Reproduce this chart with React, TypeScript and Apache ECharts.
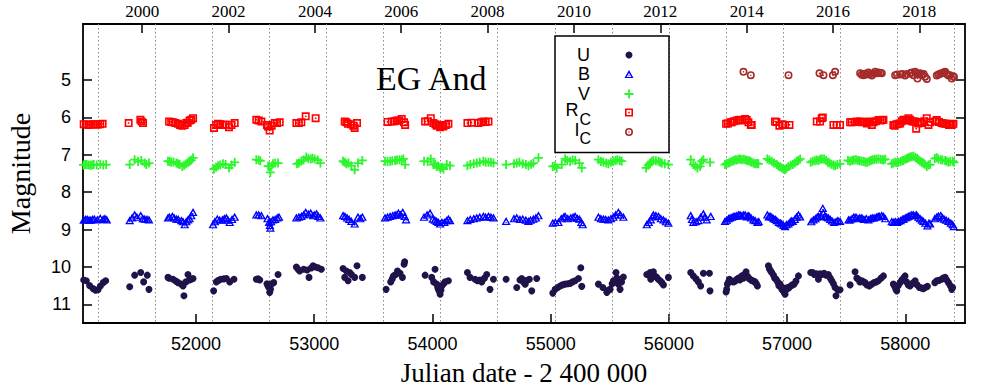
import React, { useEffect, useRef } from "react";
import * as echarts from "echarts";

// ---- axis ranges & ticks ----
const JD_MIN = 51044;
const JD_MAX = 58505;
const MAG_MIN = 3.5;
const MAG_MAX = 11.5;
const jdTicks = [52000, 53000, 54000, 55000, 56000, 57000, 58000];
const magTicks = [5, 6, 7, 8, 9, 10, 11];
const yearTicks = [2000, 2002, 2004, 2006, 2008, 2010, 2012, 2014, 2016, 2018];

// vertical dotted lines
const eclipseJD = [51173, 51656, 52139, 52621, 53104, 53587, 54069, 54552, 55035, 55517, 56000, 56483, 56966, 57448, 57931, 58414];

// ---- photometry [JD-2400000, magnitude] ----
const uData = [
  [51050,10.35],[51072,10.37],[51100,10.5],[51129,10.58],[51150,10.62],[51171,10.61],[51191,10.51],[51215,10.42],[51236,10.37],
  [51439,10.53],[51481,10.22],[51532,10.15],[51557,10.4],[51588,10.22],[51602,10.6],
  [51763,10.28],[51772,10.3],[51805,10.33],[51830,10.38],[51848,10.42],[51876,10.46],[51890,10.51],[51898,10.77],[51915,10.4],[51932,10.2],[51945,10.35],[51960,10.33],[51975,10.31],
  [52149,10.64],[52172,10.4],[52190,10.36],[52209,10.33],[52235,10.32],[52257,10.31],[52285,10.4],[52321,10.33],
  [52510,10.33],[52525,10.32],[52539,10.35],[52600,10.45],[52610,10.52],[52618,10.55],[52623,10.68],[52630,10.6],[52637,10.46],[52657,10.42],[52694,10.2],
  [52849,10.0],[52863,10.06],[52877,10.11],[52911,10.06],[52940,10.08],[52956,10.28],[52975,10.03],[52990,9.97],[53010,10.0],[53032,10.02],[53060,10.06],
  [53244,10.04],[53258,10.28],[53272,10.11],[53286,10.37],[53300,10.15],[53315,10.2],[53342,10.28],[53362,9.97],[53407,10.28],
  [53608,10.6],[53647,10.4],[53660,10.32],[53670,10.24],[53690,10.2],[53704,10.11],[53726,10.17],[53746,10.28],[53760,9.93],[53765,9.86],
  [53938,10.22],[53994,10.28],[54010,10.4],[54022,10.06],[54036,10.46],[54045,10.55],[54050,10.6],[54058,10.65],[54065,10.73],[54072,10.62],[54079,10.51],[54095,10.45],[54107,10.4],[54135,10.37],
  [54296,10.15],[54318,10.28],[54360,10.33],[54380,10.37],[54400,10.35],[54417,10.4],[54440,10.3],[54459,10.2],[54487,10.6],[54516,10.33],
  [54623,10.33],[54713,10.55],[54740,10.35],[54755,10.31],[54770,10.4],[54784,10.46],[54800,10.36],[54820,10.33],[54840,10.64],[54882,10.31],
  [55018,10.7],[55038,10.6],[55060,10.55],[55080,10.51],[55100,10.48],[55122,10.46],[55145,10.45],[55164,10.44],[55185,10.4],[55207,10.37],[55235,10.31],[55255,10.02],[55263,10.52],
  [55404,10.46],[55441,10.55],[55475,10.68],[55490,10.62],[55503,10.6],[55520,10.45],[55531,10.37],[55553,10.15],[55560,10.3],[55573,10.46],[55587,10.6],[55600,10.4],[55615,10.27],
  [55813,10.2],[55830,10.22],[55841,10.15],[55847,10.33],[55869,10.13],[55885,10.25],[55897,10.28],[55910,10.33],[55926,10.37],[55940,10.42],[55954,10.48],[55996,10.28],
  [56185,10.15],[56207,10.24],[56230,10.32],[56250,10.4],[56269,10.51],[56292,10.17],[56343,10.17],[56348,10.64],
  [56484,10.67],[56489,10.6],[56495,10.46],[56505,10.4],[56512,10.33],[56530,10.38],[56546,10.4],[56560,10.38],[56574,10.33],[56590,10.3],[56600,10.35],[56616,10.24],[56630,10.3],[56640,10.2],[56653,10.13],[56665,10.25],[56675,10.3],[56687,10.33],[56700,10.36],[56715,10.38],[56729,10.4],[56740,10.45],[56749,10.51],
  [56842,9.97],[56850,10.05],[56860,10.1],[56870,10.15],[56885,10.22],[56895,10.3],[56907,10.33],[56920,10.4],[56930,10.5],[56941,10.46],[56955,10.6],[56962,10.55],[56969,10.64],[56975,10.68],[56983,10.73],[56995,10.6],[57003,10.55],[57015,10.56],[57031,10.51],[57045,10.48],[57059,10.46],[57075,10.38],[57096,10.24],
  [57200,10.15],[57217,10.15],[57230,10.2],[57250,10.18],[57265,10.33],[57280,10.18],[57295,10.2],[57313,10.17],[57330,10.22],[57349,10.2],[57365,10.3],[57378,10.37],[57392,10.45],[57406,10.55],[57414,10.77],[57430,10.62],[57448,10.61],
  [57533,10.48],[57575,10.13],[57590,10.3],[57603,10.33],[57615,10.4],[57632,10.37],[57645,10.4],[57660,10.42],[57675,10.48],[57696,10.51],[57715,10.46],[57736,10.42],[57755,10.4],[57772,10.37],[57795,10.3],[57815,10.24],
  [57899,10.46],[57910,10.52],[57920,10.6],[57928,10.64],[57940,10.5],[57956,10.42],[57970,10.35],[57985,10.3],[57998,10.24],[58010,10.4],[58025,10.48],[58040,10.51],[58055,10.45],[58070,10.42],[58083,10.37],[58100,10.48],[58119,10.55],[58135,10.56],[58153,10.58],[58170,10.55],[58187,10.52],
  [58250,10.42],[58266,10.37],[58285,10.36],[58308,10.33],[58320,10.3],[58337,10.28],[58350,10.35],[58365,10.42],[58380,10.5],[58393,10.6],[58400,10.55]
];

const bData = [
  [51050,8.74],[51065,8.72],[51080,8.72],[51095,8.74],[51110,8.74],[51125,8.72],[51140,8.71],[51165,8.73],[51190,8.69],[51215,8.72],[51230,8.7],[51245,8.73],
  [51439,8.75],[51460,8.68],[51481,8.6],[51500,8.66],[51532,8.62],[51550,8.7],[51566,8.71],[51585,8.72],[51602,8.73],
  [51763,8.68],[51775,8.66],[51800,8.64],[51815,8.68],[51834,8.71],[51850,8.72],[51876,8.75],[51890,8.78],[51904,8.86],[51918,8.78],[51932,8.73],[51945,8.7],[51960,8.62],[51975,8.53],
  [52144,8.86],[52160,8.78],[52180,8.71],[52200,8.74],[52223,8.73],[52240,8.7],[52257,8.68],[52270,8.74],[52285,8.8],[52305,8.72],[52327,8.66],
  [52510,8.6],[52530,8.6],[52553,8.62],[52605,8.7],[52618,8.8],[52625,8.88],[52629,8.95],[52635,8.78],[52651,8.73],[52670,8.72],[52688,8.68],[52702,8.66],
  [52849,8.68],[52870,8.66],[52891,8.64],[52910,8.6],[52928,8.53],[52950,8.58],[52970,8.55],[52990,8.62],[53004,8.6],[53020,8.57],[53035,8.64],[53052,8.68],
  [53244,8.62],[53260,8.64],[53278,8.68],[53295,8.72],[53314,8.77],[53342,8.84],[53370,8.66],[53390,8.7],[53407,8.66],
  [53599,8.68],[53620,8.66],[53642,8.64],[53665,8.62],[53684,8.6],[53700,8.6],[53712,8.55],[53730,8.6],[53749,8.53],[53765,8.64],[53777,8.73],
  [53929,8.66],[53955,8.6],[53980,8.55],[54003,8.71],[54020,8.74],[54036,8.77],[54050,8.8],[54065,8.84],[54080,8.8],[54101,8.8],[54120,8.75],[54135,8.71],[54149,8.75],
  [54296,8.75],[54320,8.72],[54350,8.7],[54375,8.68],[54400,8.66],[54431,8.64],[54450,8.66],[54474,8.64],[54495,8.66],[54516,8.68],
  [54623,8.77],[54690,8.7],[54713,8.68],[54740,8.72],[54764,8.71],[54790,8.74],[54812,8.77],[54830,8.74],[54854,8.71],[54875,8.68],[54897,8.62],
  [55018,8.82],[55040,8.8],[55066,8.8],[55090,8.7],[55110,8.66],[55122,8.64],[55145,8.7],[55170,8.68],[55190,8.66],[55207,8.64],[55225,8.69],[55243,8.71],[55260,8.8],[55271,8.86],
  [55404,8.66],[55425,8.7],[55446,8.71],[55465,8.72],[55488,8.73],[55510,8.7],[55531,8.66],[55550,8.6],[55573,8.53],[55590,8.6],[55615,8.66],
  [55813,8.86],[55830,8.8],[55847,8.73],[55860,8.65],[55869,8.6],[55890,8.62],[55912,8.64],[55932,8.7],[55954,8.73],[55975,8.78],[55996,8.82],
  [56185,8.62],[56195,8.72],[56207,8.8],[56230,8.78],[56250,8.75],[56270,8.66],[56292,8.57],[56305,8.66],[56320,8.73],[56354,8.64],
  [56475,8.77],[56490,8.74],[56505,8.7],[56518,8.68],[56535,8.66],[56550,8.64],[56560,8.64],[56575,8.62],[56590,8.6],[56602,8.6],[56615,8.63],[56630,8.6],[56645,8.6],[56660,8.65],[56670,8.62],[56681,8.64],[56695,8.68],[56715,8.73],[56730,8.75],[56749,8.8],[56760,8.78],
  [56833,8.6],[56845,8.65],[56855,8.63],[56870,8.66],[56885,8.7],[56900,8.72],[56912,8.75],[56930,8.8],[56945,8.82],[56955,8.84],[56970,8.88],[56983,8.91],[56995,8.86],[57011,8.84],[57025,8.8],[57035,8.76],[57048,8.77],[57065,8.72],[57080,8.66],[57096,8.6],[57110,8.65],
  [57205,8.78],[57223,8.73],[57240,8.7],[57255,8.66],[57265,8.64],[57285,8.62],[57302,8.42],[57307,8.55],[57320,8.64],[57335,8.66],[57349,8.68],[57365,8.72],[57380,8.76],[57397,8.8],[57415,8.78],[57430,8.75],[57448,8.77],
  [57520,8.73],[57533,8.73],[57550,8.7],[57565,8.66],[57583,8.66],[57600,8.7],[57615,8.68],[57632,8.68],[57650,8.72],[57670,8.7],[57688,8.73],[57705,8.7],[57720,8.68],[57736,8.68],[57755,8.66],[57770,8.64],[57781,8.64],[57800,8.62],[57815,8.64],[57830,8.7],
  [57885,8.78],[57899,8.8],[57915,8.78],[57930,8.8],[57942,8.77],[57960,8.75],[57975,8.72],[57984,8.71],[58000,8.68],[58015,8.66],[58026,8.64],[58040,8.62],[58055,8.6],[58069,8.6],[58085,8.62],[58095,8.6],[58110,8.66],[58125,8.7],[58140,8.74],[58153,8.77],[58170,8.82],[58187,8.89],[58200,8.82],[58210,8.84],
  [58250,8.7],[58266,8.66],[58280,8.63],[58300,8.62],[58315,8.68],[58328,8.71],[58345,8.74],[58365,8.77],[58385,8.82],[58400,8.86],[58410,8.91]
];

const vData = [
  [51048,7.27],[51062,7.26],[51075,7.26],[51090,7.27],[51105,7.28],[51120,7.27],[51135,7.26],[51160,7.27],[51190,7.25],[51215,7.27],[51240,7.26],
  [51439,7.26],[51481,7.13],[51510,7.18],[51537,7.15],[51566,7.22],[51580,7.26],[51602,7.22],
  [51763,7.17],[51778,7.18],[51791,7.2],[51810,7.19],[51834,7.22],[51848,7.24],[51862,7.26],[51884,7.31],[51900,7.28],[51918,7.24],[51935,7.2],[51946,7.17],[51960,7.14],[51975,7.08],
  [52152,7.38],[52170,7.33],[52186,7.29],[52205,7.27],[52228,7.24],[52250,7.26],[52279,7.35],[52300,7.27],[52327,7.2],
  [52510,7.13],[52530,7.14],[52544,7.16],[52610,7.3],[52618,7.31],[52629,7.47],[52640,7.3],[52651,7.24],[52670,7.22],[52694,7.22],
  [52854,7.24],[52870,7.22],[52891,7.17],[52910,7.14],[52933,7.06],[52950,7.1],[52970,7.11],[52985,7.09],[53004,7.11],[53030,7.14],[53052,7.22],
  [53244,7.17],[53258,7.2],[53272,7.24],[53290,7.22],[53314,7.29],[53342,7.4],[53370,7.22],[53407,7.15],
  [53599,7.17],[53620,7.18],[53642,7.17],[53660,7.16],[53684,7.15],[53700,7.14],[53721,7.13],[53740,7.14],[53754,7.11],[53769,7.26],
  [53929,7.17],[53960,7.18],[53986,7.11],[54008,7.26],[54022,7.25],[54036,7.31],[54050,7.3],[54065,7.35],[54080,7.33],[54093,7.38],[54121,7.26],[54149,7.29],
  [54296,7.29],[54320,7.26],[54350,7.24],[54375,7.22],[54400,7.2],[54431,7.17],[54450,7.2],[54474,7.2],[54495,7.2],[54516,7.22],
  [54623,7.26],[54690,7.24],[54713,7.22],[54735,7.2],[54764,7.24],[54790,7.26],[54812,7.29],[54835,7.25],[54854,7.22],[54897,7.08],
  [55018,7.31],[55035,7.3],[55052,7.35],[55094,7.26],[55122,7.11],[55140,7.15],[55164,7.17],[55185,7.14],[55207,7.15],[55243,7.22],[55263,7.35],
  [55404,7.13],[55425,7.18],[55446,7.2],[55470,7.22],[55488,7.24],[55510,7.2],[55531,7.17],[55550,7.15],[55565,7.13],[55585,7.15],[55601,7.17],
  [55807,7.35],[55825,7.28],[55841,7.22],[55855,7.18],[55869,7.15],[55890,7.16],[55912,7.17],[55925,7.2],[55940,7.22],[55965,7.24],[55996,7.26],
  [56185,7.13],[56207,7.26],[56225,7.3],[56241,7.35],[56264,7.31],[56278,7.17],[56292,7.13],[56348,7.2],
  [56475,7.26],[56490,7.23],[56505,7.22],[56518,7.2],[56535,7.17],[56548,7.16],[56560,7.13],[56575,7.14],[56590,7.12],[56602,7.11],[56615,7.13],[56630,7.12],[56645,7.13],[56660,7.15],[56675,7.16],[56687,7.17],[56700,7.2],[56715,7.22],[56729,7.24],[56745,7.23],[56757,7.24],
  [56833,7.11],[56850,7.14],[56870,7.17],[56890,7.22],[56912,7.26],[56925,7.3],[56940,7.32],[56955,7.35],[56970,7.38],[56983,7.4],[56995,7.36],[57011,7.31],[57030,7.28],[57048,7.26],[57065,7.22],[57082,7.17],[57095,7.15],[57110,7.11],
  [57200,7.2],[57217,7.17],[57235,7.16],[57250,7.14],[57265,7.15],[57280,7.12],[57295,7.11],[57313,7.11],[57330,7.15],[57345,7.2],[57358,7.22],[57375,7.25],[57392,7.27],[57406,7.29],[57425,7.26],[57448,7.24],
  [57515,7.15],[57533,7.17],[57550,7.15],[57565,7.14],[57583,7.13],[57600,7.15],[57615,7.16],[57632,7.17],[57650,7.18],[57665,7.2],[57679,7.2],[57695,7.17],[57710,7.15],[57725,7.13],[57740,7.12],[57755,7.12],[57772,7.11],[57790,7.12],[57805,7.13],[57815,7.13],[57830,7.12],
  [57885,7.24],[57899,7.22],[57915,7.2],[57930,7.21],[57942,7.2],[57960,7.18],[57975,7.16],[57984,7.15],[58000,7.12],[58015,7.1],[58026,7.08],[58040,7.06],[58055,7.05],[58069,7.04],[58085,7.07],[58100,7.1],[58110,7.13],[58125,7.17],[58140,7.2],[58153,7.22],[58165,7.25],[58181,7.31],[58195,7.27],[58210,7.26],
  [58250,7.1],[58266,7.08],[58280,7.11],[58300,7.13],[58315,7.14],[58337,7.15],[58350,7.17],[58365,7.2],[58380,7.18],[58401,7.17],[58412,7.2]
];

const rData = [
  [51050,6.18],[51070,6.19],[51090,6.2],[51110,6.19],[51130,6.18],[51150,6.19],[51170,6.19],[51190,6.18],[51210,6.17],
  [51430,6.15],[51529,6.06],[51540,6.11],[51552,6.15],
  [51772,6.11],[51790,6.12],[51805,6.13],[51825,6.15],[51848,6.17],[51865,6.2],[51884,6.22],[51904,6.2],[51918,6.15],[51930,6.14],[51946,6.08],[51960,6.06],[51975,6.02],
  [52152,6.28],[52170,6.2],[52186,6.17],[52205,6.18],[52228,6.2],[52250,6.19],[52279,6.26],[52300,6.2],[52327,6.15],
  [52510,6.06],[52530,6.08],[52553,6.11],[52600,6.2],[52609,6.24],[52623,6.35],[52640,6.22],[52666,6.15],[52685,6.15],[52708,6.13],
  [52849,6.15],[52870,6.15],[52891,6.13],[52928,5.97],[53012,6.02],
  [53258,6.11],[53272,6.13],[53286,6.17],[53310,6.18],[53330,6.22],[53342,6.28],[53362,6.15],
  [53620,6.12],[53656,6.11],[53680,6.1],[53698,6.08],[53720,6.08],[53740,6.04],[53760,6.13],[53769,6.2],
  [53938,6.11],[53960,6.1],[53986,6.02],[54008,6.15],[54025,6.18],[54036,6.22],[54050,6.2],[54065,6.26],[54080,6.22],[54093,6.24],[54115,6.2],[54135,6.17],
  [54296,6.15],[54330,6.14],[54389,6.15],[54410,6.13],[54431,6.11],[54450,6.12],[54474,6.11],
  [56484,6.17],[56500,6.16],[56520,6.13],[56532,6.13],[56550,6.1],[56574,6.08],[56590,6.07],[56602,6.06],[56620,6.08],[56645,6.04],[56659,6.07],[56673,6.13],[56693,6.2],[56701,6.2],
  [56898,6.11],[56910,6.12],[56935,6.22],[56960,6.18],[56983,6.2],[57020,6.2],
  [57251,6.11],[57279,6.11],[57293,6.02],[57302,6.0],[57392,6.2],[57420,6.2],[57448,6.2],
  [57533,6.13],[57547,6.13],[57570,6.12],[57589,6.11],[57605,6.12],[57618,6.11],[57632,6.13],[57650,6.12],[57674,6.16],[57688,6.11],[57700,6.13],[57717,6.2],[57730,6.13],[57750,6.1],[57773,6.07],[57790,6.08],[57805,6.07],[57815,6.06],
  [57899,6.2],[57910,6.22],[57925,6.18],[57942,6.17],[57956,6.16],[57970,6.1],[57984,6.06],[58000,6.08],[58015,6.06],[58027,6.02],[58040,6.06],[58055,6.1],[58069,6.11],[58083,6.11],[58092,6.3],[58110,6.16],[58125,6.12],[58139,6.15],[58160,6.1],[58181,6.02],[58196,6.2],[58210,6.13],
  [58255,6.1],[58266,6.07],[58285,6.12],[58308,6.15],[58323,6.16],[58340,6.17],[58351,6.17],[58370,6.2],[58379,6.2],[58393,6.2],[58407,6.17]
];

const iData = [
  [56631,4.78],[56693,4.87],[57012,4.87],[57274,4.82],[57308,4.87],[57387,4.87],[57406,4.78],
  [57618,4.82],[57632,4.86],[57646,4.87],[57660,4.83],[57674,4.85],[57688,4.8],[57703,4.84],[57717,4.88],[57730,4.83],[57745,4.78],[57760,4.82],[57773,4.8],[57790,4.81],[57801,4.82],
  [57914,4.87],[57930,4.85],[57956,4.85],[57975,4.84],[57998,4.88],[58015,4.84],[58041,4.82],[58055,4.8],[58069,4.87],[58083,4.78],[58095,4.82],[58103,4.96],[58115,4.85],[58125,4.82],[58140,4.86],[58155,4.84],[58167,4.91],[58182,4.97],
  [58266,4.88],[58280,4.85],[58295,4.83],[58309,4.82],[58323,4.8],[58337,4.78],[58350,4.84],[58365,4.88],[58379,4.87],[58393,4.96],[58405,4.9],[58412,4.92]
];

const bandNames = ["U", "B", "V", "RC", "IC"];
const bandColors = ["#21134a", "#0000ff", "#2cf52c", "#ff0000", "#a52a2a"];

// marker outlines (unit box 10x10)
const TRI_D = "M5,0 L10,9 L0,9 Z M5,3.3 L2.4,7.7 L7.6,7.7 Z M4.4,5.7 L5.6,5.7 L5.6,6.9 L4.4,6.9 Z";
const PLUS_D = "M4,0 L6,0 L6,4 L10,4 L10,6 L6,6 L6,10 L4,10 L4,6 L0,6 L0,4 L4,4 Z";
const SQ_D = "M0,0 L10,0 L10,10 L0,10 Z M2,2 L2,8 L8,8 L8,2 Z M4,4 L6,4 L6,6 L4,6 Z";
const RING_D = "M5,0 A5,5 0 1,1 5,10 A5,5 0 1,1 5,0 Z M5,2 A3,3 0 1,0 5,8 A3,3 0 1,0 5,2 Z M5,4 A1,1 0 1,1 5,6 A1,1 0 1,1 5,4 Z";

const SANS = "Liberation Sans";
const SERIF = "Liberation Serif";

const jdToYear = (jd: number) => 2000 + (jd - 51544.5) / 365.25;

export default function App() {
  const ref = useRef<HTMLDivElement>(null);
  useEffect(() => {
    if (!ref.current) return;
    echarts.graphic.registerShape("symTri", echarts.graphic.extendPath(TRI_D, {}));
    echarts.graphic.registerShape("symPlus", echarts.graphic.extendPath(PLUS_D, {}));
    echarts.graphic.registerShape("symSq", echarts.graphic.extendPath(SQ_D, {}));
    echarts.graphic.registerShape("symRing", echarts.graphic.extendPath(RING_D, {}));
    const chart = echarts.init(ref.current, undefined, { renderer: "svg" });

    const mk = (name: string, data: number[][], symbol: string, size: any, color: string, extra: any = {}) => ({
      name,
      type: "scatter",
      xAxisIndex: 0,
      yAxisIndex: 0,
      data,
      symbol,
      symbolSize: size,
      itemStyle: { color, opacity: 1 },
      silent: true,
      ...extra,
    });

    const legendX = 629;
    const legendRows = [55, 74, 94, 112.5, 132];
    const legText = (text: string, x: number, y: number, align: string, size: number, lh: number) => ({
      type: "text",
      x,
      y,
      z: 101,
      style: { text, align, verticalAlign: "middle", fontFamily: SANS, fontSize: size, lineHeight: lh, fill: "#000" },
    });

    const option: any = {
      animation: false,
      backgroundColor: "#ffffff",
      grid: { left: 83, right: 35, top: 24, bottom: 63, containLabel: false, outerBoundsMode: "none" },
      xAxis: [
        {
          type: "value",
          position: "bottom",
          min: JD_MIN,
          max: JD_MAX,
          name: "Julian date - 2 400 000",
          nameLocation: "middle",
          nameGap: 36,
          nameTextStyle: { fontFamily: SERIF, fontSize: 27, color: "#000" },
          axisLine: { show: true, onZero: false, lineStyle: { color: "#000", width: 1.8 } },
          axisTick: { show: true, inside: true, length: 9, customValues: jdTicks, lineStyle: { color: "#000", width: 1.5 } },
          axisLabel: { show: true, customValues: jdTicks, margin: 12, fontFamily: SANS, fontSize: 18, color: "#000", formatter: (v: number) => String(v) },
          splitLine: { show: false },
        },
        {
          type: "value",
          position: "top",
          min: jdToYear(JD_MIN),
          max: jdToYear(JD_MAX),
          axisLine: { show: true, onZero: false, lineStyle: { color: "#000", width: 1.8 } },
          axisTick: { show: true, inside: true, length: 9, customValues: yearTicks, lineStyle: { color: "#000", width: 1.5 } },
          axisLabel: { show: true, customValues: yearTicks, margin: 5, lineHeight: 16, fontFamily: SERIF, fontSize: 17, color: "#000", formatter: (v: number) => String(Math.round(v)) },
          splitLine: { show: false },
        },
      ],
      yAxis: [
        {
          type: "value",
          position: "left",
          min: MAG_MIN,
          max: MAG_MAX,
          inverse: true,
          name: "Magnitude",
          nameLocation: "middle",
          nameRotate: 90,
          nameGap: 49,
          nameTextStyle: { fontFamily: SERIF, fontSize: 28, color: "#000" },
          axisLine: { show: true, onZero: false, lineStyle: { color: "#000", width: 1.8 } },
          axisTick: { show: true, inside: true, length: 9, customValues: magTicks, lineStyle: { color: "#000", width: 1.5 } },
          axisLabel: { show: true, customValues: magTicks, margin: 12, fontFamily: SANS, fontSize: 18, color: "#000" },
          splitLine: { show: false },
        },
        {
          type: "value",
          position: "right",
          min: MAG_MIN,
          max: MAG_MAX,
          inverse: true,
          axisLine: { show: true, onZero: false, lineStyle: { color: "#000", width: 1.8 } },
          axisTick: { show: true, inside: true, length: 9, customValues: magTicks, lineStyle: { color: "#000", width: 1.5 } },
          axisLabel: { show: false },
          splitLine: { show: false },
        },
      ],
      series: [
        mk(bandNames[0], uData, "circle", 7, bandColors[0], {
          markLine: {
            silent: true,
            symbol: ["none", "none"],
            label: { show: false },
            lineStyle: { color: "#888", width: 1, type: [1.5, 2.5] },
            data: eclipseJD.map((v) => ({ xAxis: v })),
            z: 1,
          },
        }),
        mk(bandNames[1], bData, "path://" + TRI_D, [9, 8], bandColors[1]),
        mk(bandNames[2], vData, "path://" + PLUS_D, 9, bandColors[2]),
        mk(bandNames[3], rData, "path://" + SQ_D, 8, bandColors[3]),
        mk(bandNames[4], iData, "path://" + RING_D, 8, bandColors[4]),
      ],
      graphic: [
        {
          type: "text",
          left: 376,
          top: 61,
          style: { text: "EG And", fontFamily: SERIF, fontSize: 34, fill: "#000" },
          z: 50,
        },
        {
          type: "rect",
          shape: { x: 555, y: 36, width: 114, height: 116.5 },
          style: { fill: "#fff", stroke: "#000", lineWidth: 1.5 },
          z: 100,
        },
        legText("U", 590, 54.5, "right", 18, 16),
        legText("B", 590, 74.2, "right", 18, 16),
        legText("V", 590, 93.8, "right", 18, 16),
        legText("R", 578.5, 110, "right", 18, 15),
        legText("C", 579.5, 119.5, "left", 16, 12),
        legText("I", 579.5, 129.5, "right", 18, 14),
        legText("C", 579.5, 138.5, "left", 16, 12),
        { type: "circle", shape: { cx: legendX, cy: legendRows[0], r: 3.5 }, style: { fill: bandColors[0] }, z: 101 },
        { type: "symTri", x: legendX - 4.5, y: legendRows[1] - 4, scaleX: 0.9, scaleY: 0.9, style: { fill: bandColors[1] }, z: 101 },
        { type: "symPlus", x: legendX - 4.5, y: legendRows[2] - 4.5, scaleX: 0.9, scaleY: 0.9, style: { fill: bandColors[2] }, z: 101 },
        { type: "symSq", x: legendX - 4, y: legendRows[3] - 4, scaleX: 0.8, scaleY: 0.8, style: { fill: bandColors[3] }, z: 101 },
        { type: "symRing", x: legendX - 4, y: legendRows[4] - 4, scaleX: 0.8, scaleY: 0.8, style: { fill: bandColors[4] }, z: 101 },
      ],
    };
    chart.setOption(option);
    return () => chart.dispose();
  }, []);
  return <div ref={ref} style={{ position: "absolute", left: 0, top: 0, width: 1000, height: 386, background: "#fff" }} />;
}
